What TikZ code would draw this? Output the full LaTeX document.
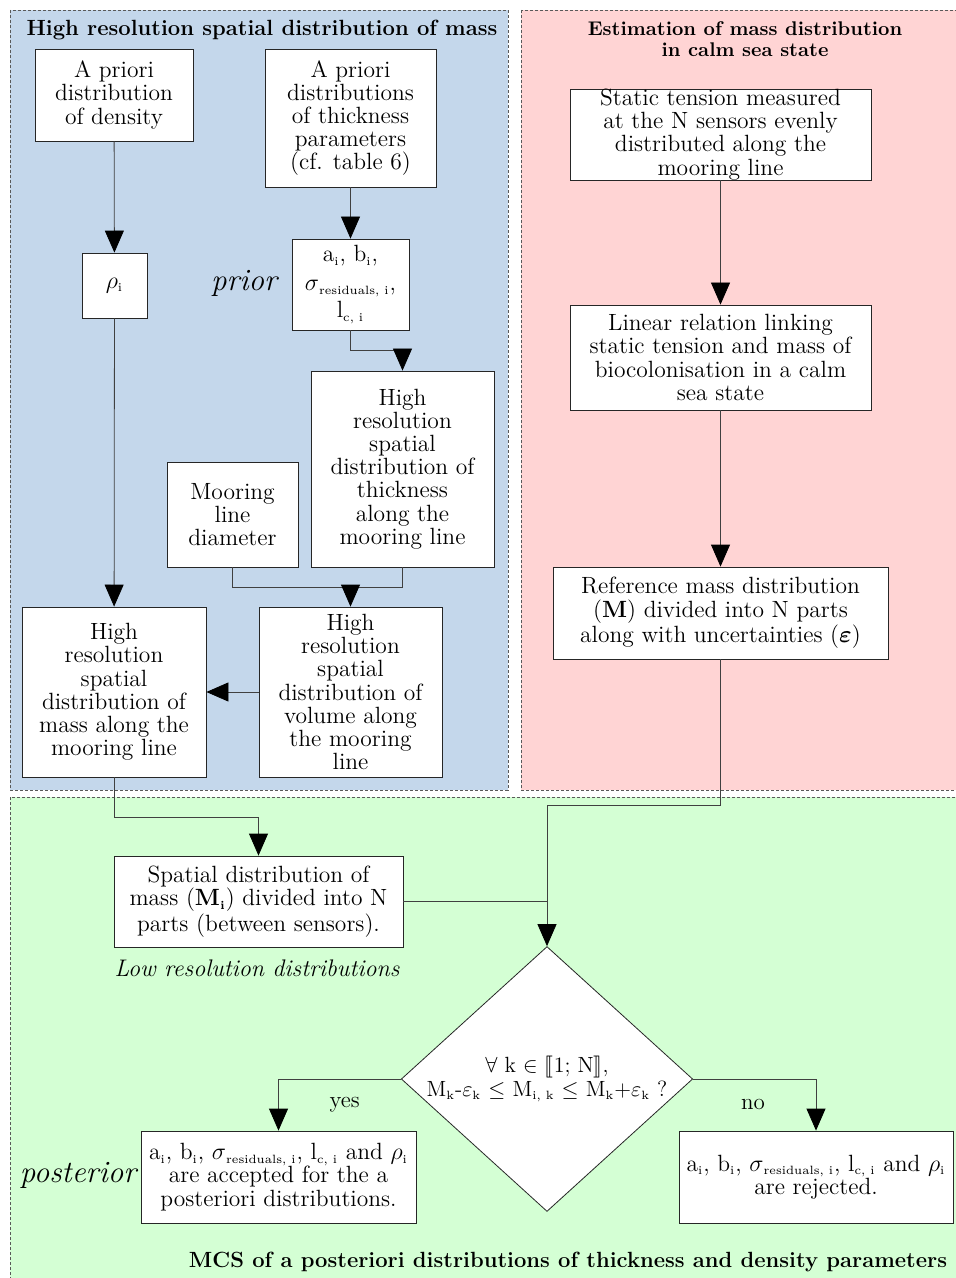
\documentclass[tikz,border=0pt]{standalone}
\usepackage{amsmath,amssymb,stmaryrd}
\usetikzlibrary{arrows.meta,shapes.geometric,positioning}
\definecolor{hrblue}{RGB}{196,215,235}
\definecolor{calmred}{RGB}{255,212,212}
\definecolor{mcsgreen}{RGB}{212,255,212}
\newcommand{\sbs}[1]{\textsubscript{\fontsize{6}{6}\selectfont #1}}
\begin{document}
\begin{tikzpicture}[x=0.5pt, y=-0.5pt,
    box/.style={draw=black!85, fill=white, align=center, inner sep=0pt, font=\fontsize{11.75}{11.6}\selectfont},
    arr/.style={draw=black!75, -{Triangle[length=11pt,width=9.5pt,black]}},
    line/.style={draw=black!75},
    panel/.style={draw=black!65, dash pattern=on 1.5pt off 1pt},
    title/.style={font=\bfseries\fontsize{11}{13}\selectfont, align=center},
    note/.style={font=\itshape\fontsize{15.5}{17}\selectfont}]
    \useasboundingbox (0,0) rectangle (955,1278);
    % panels
    \path[panel, fill=hrblue] (10,10) rectangle (508,790);
    \path[panel, fill=calmred] (521,10) rectangle (957,790);
    \path[panel, fill=mcsgreen] (10,797) rectangle (957,1280);
    \node[title] (t1) at (262,30) {High resolution spatial distribution of mass};
    \node[title, font=\bfseries\fontsize{9.9}{10.5}\selectfont] (t2) at (745,39) {Estimation of mass distribution\\in calm sea state};
    \node[title] (t3) at (568,1262) {MCS of a posteriori distributions of thickness and density parameters};
    % high resolution part
    \node[box, minimum width=79pt, minimum height=46pt] (dens) at (114,95) {A priori\\distribution\\of density};
    \node[box, minimum width=85.5pt, minimum height=69pt] (thick) at (350.5,118) {A priori\\distributions\\of thickness\\parameters\\(cf. table 6)};
    \node[box, minimum width=32.5pt, minimum height=32.5pt] (rho) at (114.5,285.5) {$\rho$\sbs{i}};
    \node[box, minimum width=58.5pt, minimum height=45.5pt] (par) at (350.5,284.5) {a\sbs{i}, b\sbs{i},\\[3pt]$\sigma$\sbs{residuals, i},\\[2pt]l\sbs{c, i}};
    \node[note] (prior) at (244,283) {prior};
    \node[box, minimum width=91.5pt, minimum height=98pt] (thhr) at (402.5,469) {High\\resolution\\spatial\\distribution of\\thickness\\along the\\mooring line};
    \node[box, minimum width=65.5pt, minimum height=52.5pt] (diam) at (232.5,514.5) {Mooring\\line\\diameter};
    \node[box, minimum width=91.5pt, minimum height=85pt] (vol) at (350.5,692) {High\\resolution\\spatial\\distribution of\\volume along\\the mooring\\line};
    \node[box, minimum width=92pt, minimum height=85pt] (mass) at (114,692) {High\\resolution\\spatial\\distribution of\\mass along the\\mooring line};
    % calm sea state part
    \node[box, minimum width=150.5pt, minimum height=45.5pt] (stat) at (720.5,134.5) {Static tension measured\\at the N sensors evenly\\distributed along the\\mooring line};
    \node[box, minimum width=150.5pt, minimum height=52.5pt] (lin) at (720.5,357.5) {Linear relation linking\\static tension and mass of\\biocolonisation in a calm\\sea state};
    \node[box, minimum width=167.5pt, minimum height=46pt] (ref) at (720.5,613) {Reference mass distribution\\(\textbf{M}) divided into N parts\\along with uncertainties ($\boldsymbol{\varepsilon}$)};
    % MCS part
    \node[box, minimum width=144.5pt, minimum height=45.5pt] (low) at (258.5,901.5) {Spatial distribution of\\mass (\textbf{M}\sbs{\textbf{i}}) divided into N\\parts (between sensors).};
    \node[font=\itshape\fontsize{12}{14}\selectfont] (lowlab) at (257,968) {Low resolution distributions};
    \node[box, shape=diamond, aspect=1.1, minimum width=144pt, minimum height=131pt, font=\fontsize{11}{12}\selectfont] (test) at (547,1079) {$\forall$ k $\in$ $\llbracket$1; N$\rrbracket$,\\M\sbs{k}-$\varepsilon$\sbs{k} $\leq$ M\sbs{i, k} $\leq$ M\sbs{k}+$\varepsilon$\sbs{k} ?};
    \node[box, minimum width=137.5pt, minimum height=46pt] (acc) at (278.5,1177) {a\sbs{i}, b\sbs{i}, $\sigma$\sbs{residuals, i}, l\sbs{c, i} and $\rho$\sbs{i}\\are accepted for the a\\posteriori distributions.};
    \node[box, minimum width=137pt, minimum height=46pt] (rej) at (816,1177) {a\sbs{i}, b\sbs{i}, $\sigma$\sbs{residuals, i}, l\sbs{c, i} and $\rho$\sbs{i}\\are rejected.};
    \node[note] (post) at (78,1175) {posterior};
    % connectors
    \draw[arr] (dens) -- (rho);
    \draw[arr] (thick) -- (par);
    \draw[arr] (par.south) -- ++(0,20) -| (thhr.north);
    \draw[arr] (rho) -- (mass);
    \draw[line] (diam.south) -- ++(0,20) -| (thhr.south);
    \draw[arr] (vol.north) ++(0,-20) -- (vol.north);
    \draw[arr] (vol) -- (mass);
    \draw[arr] (stat) -- (lin);
    \draw[arr] (lin) -- (ref);
    \draw[arr] (mass.south) -- ++(0,40) -| (low.north);
    \draw[line] (low.east) -- (low.east -| test.north);
    \draw[arr] (ref.south) -- ++(0,146) -| (test.north);
    \draw[arr] (test.west) -| node[pos=0.75, right=22pt, font=\fontsize{11.5}{13}\selectfont] {yes} (acc.north);
    \draw[arr] (test.east) -| node[pos=0.75, left=22pt, font=\fontsize{11.5}{13}\selectfont] {no} (rej.north);
\end{tikzpicture}
\end{document}
